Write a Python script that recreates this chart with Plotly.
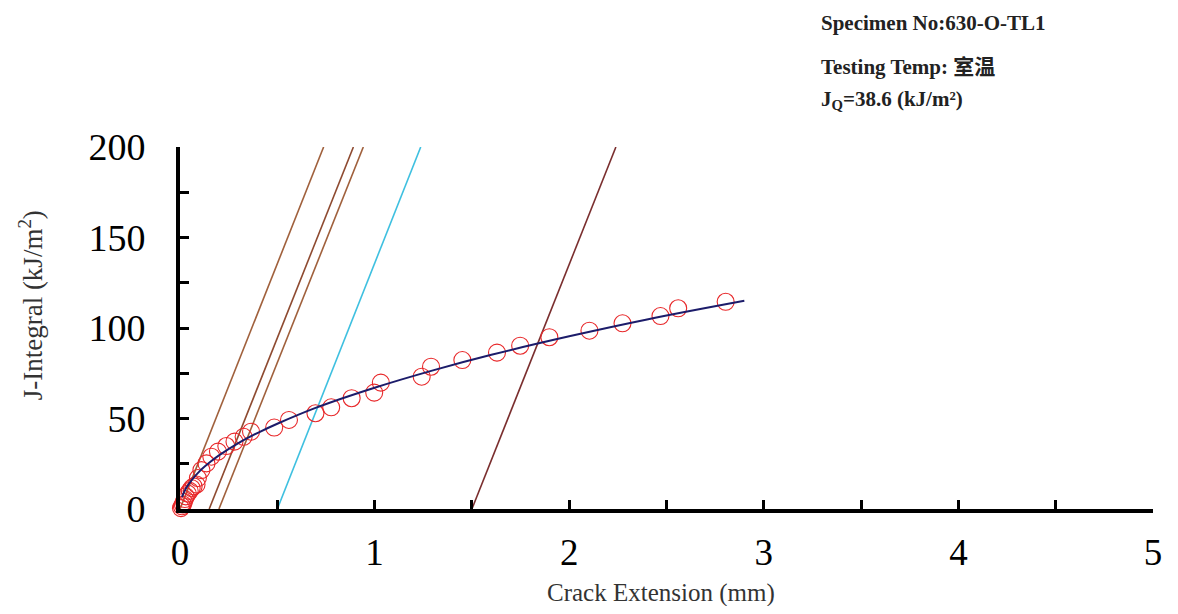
import plotly.graph_objects as go

# Measured data (crack extension mm, J kJ/m^2)
da_pts = [0.005, 0.01, 0.015, 0.02, 0.025, 0.03, 0.04, 0.05, 0.06, 0.07, 0.085, 0.092,
          0.11, 0.136, 0.161, 0.195, 0.238, 0.28, 0.327, 0.365, 0.484, 0.56, 0.696,
          0.777, 0.882, 0.998, 1.032, 1.242, 1.29, 1.451, 1.629, 1.748, 1.898, 2.104,
          2.274, 2.469, 2.56, 2.804]
j_pts = [0.5, 1.5, 2.5, 4.0, 5.5, 7.0, 8.5, 10.0, 11.5, 12.5, 13.5, 17.1,
         21.5, 25.2, 28.9, 31.7, 34.8, 37.2, 39.9, 42.7, 45.0, 49.2, 52.9,
         56.2, 61.2, 64.3, 69.8, 73.1, 78.6, 82.3, 86.4, 90.2, 94.9, 98.5,
         102.6, 106.6, 110.9, 114.5]

# Fit curve
fit_da = [0.01, 0.03, 0.06, 0.1, 0.15, 0.2, 0.3, 0.4, 0.5, 0.7, 1.0, 1.3, 1.6, 2.0, 2.4, 2.9]
fit_j = [6.5, 11.3, 16.0, 20.8, 25.5, 29.6, 36.4, 42.1, 47.1, 56.0, 67.0, 76.6, 85.2, 95.4, 104.7, 115.0]

# Construction lines: crack extension at J=0 and at J=200
line_x_bottom = [0.0, 0.15, 0.2, 0.5, 1.5]
line_x_top = [0.738, 0.891, 0.942, 1.237, 2.24]
line_j = [0, 200]
line_colors = ["#A0603C", "#8E4A30", "#A0603C", "#3EC0E0", "#7A2E2E"]

x_ticks = [0, 1, 2, 3, 4, 5]
y_ticks = [0, 50, 100, 150, 200]

fig = go.Figure()

for x0, x1, c in zip(line_x_bottom, line_x_top, line_colors):
    fig.add_trace(go.Scatter(x=[x0, x1], y=line_j, mode="lines",
                             line=dict(color=c, width=1.6), showlegend=False,
                             hoverinfo="skip"))

fig.add_trace(go.Scatter(x=da_pts, y=j_pts, mode="markers",
                         marker=dict(symbol="circle-open", size=17,
                                     color="#E8282A", line=dict(width=1.1)),
                         cliponaxis=False, showlegend=False))

fig.add_trace(go.Scatter(x=fit_da, y=fit_j, mode="lines", line_shape="spline",
                         line=dict(color="#1C1C6A", width=2), showlegend=False))

serif = "Liberation Serif, Times New Roman, serif"
note_font = dict(family=serif + ", Noto Sans CJK SC", size=21, color="#222222")

fig.update_layout(
    width=1165, height=598,
    margin=dict(l=172, r=11, t=139, b=97),
    paper_bgcolor="white", plot_bgcolor="white",
    xaxis=dict(range=[0, 5], tickvals=x_ticks, ticks="inside", ticklen=9, tickwidth=3,
               tickcolor="black", showline=True, linecolor="black", linewidth=4,
               showgrid=False, zeroline=False,
               tickfont=dict(family=serif, size=37, color="black"),
               ticklabelstandoff=8,
               minor=dict(dtick=0.5, tick0=0, ticks="inside", ticklen=9, tickwidth=3,
                          tickcolor="black", showgrid=False)),
    yaxis=dict(range=[0, 200], tickvals=y_ticks, ticks="inside", ticklen=9, tickwidth=3,
               tickcolor="black", showline=True, linecolor="black", linewidth=4,
               showgrid=False, zeroline=False,
               tickfont=dict(family=serif, size=38, color="black"),
               ticklabelstandoff=23,
               minor=dict(dtick=25, tick0=0, ticks="inside", ticklen=9, tickwidth=3,
                          tickcolor="black", showgrid=False)),
    annotations=[
        dict(text="Crack Extension (mm)", xref="paper", yref="paper", x=0.494, y=-0.233,
             showarrow=False, font=dict(family=serif, size=25, color="#333333"),
             xanchor="center", yanchor="middle"),
        dict(text="J-Integral (kJ/m<sup>2</sup>)", xref="paper", yref="paper",
             x=-0.153, y=0.563, textangle=-90, showarrow=False,
             font=dict(family=serif, size=27, color="#333333"),
             xanchor="center", yanchor="middle"),
        dict(text="<b>Specimen No:630-O-TL1</b>", xref="paper", yref="paper",
             x=0.657, y=1.3425, xanchor="left", yanchor="middle", showarrow=False,
             font=note_font),
        dict(text="<b>Testing Temp: 室温</b>", xref="paper", yref="paper",
             x=0.657, y=1.221, xanchor="left", yanchor="middle", showarrow=False,
             font=note_font),
        dict(text="<b>J<sub>Q</sub>=38.6 (kJ/m²)</b>", xref="paper", yref="paper",
             x=0.657, y=1.13, xanchor="left", yanchor="middle", showarrow=False,
             font=note_font),
    ],
)

fig.write_html("out.html", config={"displayModeBar": False})
